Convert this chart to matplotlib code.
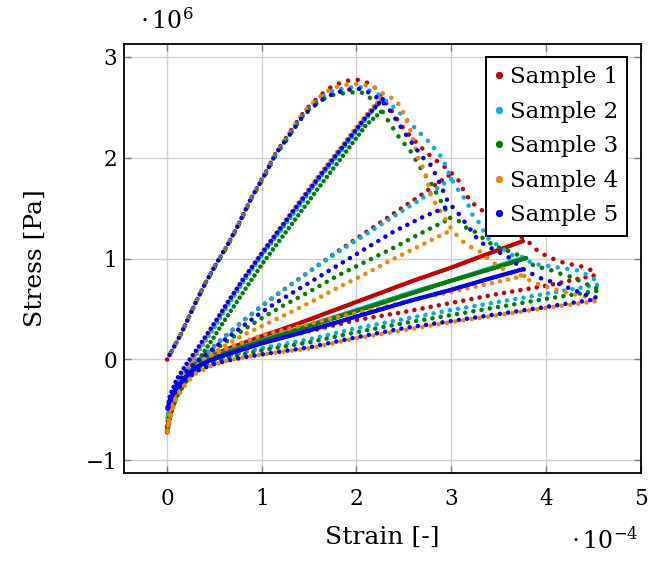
import matplotlib
matplotlib.use('Agg')
import matplotlib.pyplot as plt
from matplotlib.lines import Line2D

plt.rcParams['font.family'] = 'DejaVu Serif'
plt.rcParams['mathtext.fontset'] = 'dejavuserif'

# strain in 1e-4, stress in 1e6 Pa
labels = ['Sample 1', 'Sample 2', 'Sample 3', 'Sample 4', 'Sample 5']
colors = ['#cc0000', '#00b0ea', '#008000', '#ff8000', '#0000ff']

# first loading branch, shared strain points up to the peak
rise_x = [0, 0.07, 0.14, 0.22, 0.31, 0.40, 0.52, 0.63, 0.75, 0.89, 1.05, 1.15,
          1.26, 1.42, 1.51, 1.65, 1.75, 1.89, 2.03]
rise_y = [
    [0, 0.12, 0.24, 0.40, 0.58, 0.75, 0.95, 1.12, 1.33, 1.60, 1.87, 2.05, 2.20, 2.42, 2.52, 2.64, 2.71, 2.76, 2.77],
    [0, 0.12, 0.24, 0.40, 0.58, 0.75, 0.95, 1.12, 1.33, 1.60, 1.86, 2.04, 2.18, 2.40, 2.50, 2.61, 2.66, 2.69, 2.70],
    [0, 0.12, 0.24, 0.40, 0.58, 0.75, 0.94, 1.11, 1.32, 1.59, 1.85, 2.03, 2.17, 2.40, 2.49, 2.58, 2.62, 2.64, 2.65],
    [0, 0.12, 0.24, 0.40, 0.58, 0.75, 0.95, 1.12, 1.33, 1.60, 1.87, 2.05, 2.20, 2.42, 2.52, 2.63, 2.69, 2.72, 2.73],
    [0, 0.12, 0.24, 0.40, 0.58, 0.75, 0.95, 1.12, 1.33, 1.60, 1.86, 2.04, 2.18, 2.39, 2.48, 2.58, 2.63, 2.67, 2.68],
]

# softening branch after the peak, per sample
soft_x = [
    [2.17, 2.28, 2.38, 2.47, 2.56, 2.66, 2.80, 2.94, 3.01, 3.08, 3.14, 3.21, 3.35, 3.50, 3.65, 3.80, 3.93, 4.07, 4.21, 4.35, 4.55],
    [2.10, 2.24, 2.38, 2.58, 2.64, 2.77, 2.84, 2.91, 3.00, 3.08, 3.17, 3.22, 3.29, 3.35, 3.40, 3.65, 3.78, 3.85, 4.14, 4.35, 4.49, 4.55],
    [2.10, 2.26, 2.31, 2.38, 2.45, 2.52, 2.59, 2.64, 2.73, 2.79, 2.89, 2.99, 3.07, 3.15, 3.26, 3.35, 3.43, 3.50, 3.59, 3.72, 3.80, 3.87, 4.07, 4.15, 4.26, 4.42, 4.55],
    [2.12, 2.22, 2.31, 2.40, 2.47, 2.56, 2.66, 2.72, 2.79, 2.90, 3.01, 3.10, 3.17, 3.29, 3.40, 3.50, 3.65, 3.75, 3.85, 4.00, 4.19, 4.42, 4.55],
    [2.10, 2.24, 2.33, 2.40, 2.47, 2.58, 2.70, 2.79, 2.85, 2.92, 2.98, 3.05, 3.10, 3.17, 3.28, 3.36, 3.47, 3.61, 3.75, 3.85, 4.00, 4.08, 4.21, 4.45, 4.55],
]
soft_y = [
    [2.72, 2.58, 2.45, 2.32, 2.22, 2.12, 2.00, 1.90, 1.84, 1.77, 1.66, 1.56, 1.46, 1.35, 1.26, 1.18, 1.06, 1.00, 0.95, 0.93, 0.86],
    [2.68, 2.62, 2.51, 2.33, 2.27, 2.15, 2.07, 1.99, 1.79, 1.67, 1.56, 1.44, 1.36, 1.26, 1.19, 1.03, 1.01, 0.95, 0.91, 0.88, 0.81, 0.76],
    [2.63, 2.48, 2.40, 2.30, 2.20, 2.12, 2.04, 1.95, 1.82, 1.74, 1.57, 1.40, 1.38, 1.31, 1.26, 1.19, 1.14, 1.11, 1.08, 1.03, 1.00, 0.93, 0.88, 0.85, 0.82, 0.75, 0.70],
    [2.71, 2.68, 2.61, 2.58, 2.50, 2.30, 1.97, 1.87, 1.61, 1.45, 1.28, 1.19, 1.13, 1.08, 0.99, 0.92, 0.85, 0.83, 0.77, 0.72, 0.67, 0.62, 0.58],
    [2.66, 2.58, 2.50, 2.40, 2.30, 2.15, 2.00, 1.92, 1.80, 1.66, 1.53, 1.49, 1.41, 1.33, 1.19, 1.13, 1.08, 1.01, 0.90, 0.85, 0.78, 0.77, 0.72, 0.63, 0.61],
]

# unloading / reloading lines, one strain grid per cycle
cyc1_x = [0, 0.03, 0.1, 0.2, 0.3, 0.4, 0.5, 0.65, 0.8, 1.0, 1.3, 1.6, 1.9, 2.1, 2.28]
cyc1_y = [
    [-0.66, -0.46, -0.27, -0.12, 0.04, 0.19, 0.33, 0.56, 0.77, 1.04, 1.42, 1.80, 2.16, 2.40, 2.58],
    [-0.60, -0.44, -0.26, -0.11, 0.04, 0.18, 0.32, 0.55, 0.76, 1.03, 1.40, 1.78, 2.14, 2.38, 2.60],
    [-0.70, -0.52, -0.33, -0.19, -0.05, 0.09, 0.23, 0.45, 0.66, 0.94, 1.32, 1.70, 2.07, 2.32, 2.47],
    [-0.74, -0.50, -0.29, -0.12, 0.05, 0.20, 0.35, 0.58, 0.79, 1.06, 1.44, 1.82, 2.18, 2.42, 2.61],
    [-0.50, -0.36, -0.20, -0.05, 0.08, 0.22, 0.36, 0.58, 0.79, 1.05, 1.43, 1.80, 2.16, 2.40, 2.58],
]
cyc2_x = [0, 0.03, 0.1, 0.2, 0.3, 0.45, 0.6, 0.8, 1.0, 1.2, 1.5, 1.8, 2.1, 2.4, 2.7, 3.0]
cyc2_y = [
    [-0.70, -0.50, -0.30, -0.14, -0.03, 0.09, 0.22, 0.38, 0.53, 0.67, 0.87, 1.07, 1.26, 1.45, 1.64, 1.84],
    [-0.60, -0.45, -0.28, -0.13, -0.03, 0.09, 0.22, 0.38, 0.53, 0.67, 0.87, 1.06, 1.24, 1.42, 1.60, 1.79],
    [-0.72, -0.52, -0.32, -0.16, -0.05, 0.06, 0.16, 0.29, 0.41, 0.52, 0.67, 0.83, 0.97, 1.11, 1.26, 1.40],
    [-0.76, -0.55, -0.34, -0.18, -0.07, 0.04, 0.13, 0.24, 0.33, 0.42, 0.56, 0.71, 0.85, 1.00, 1.14, 1.28],
    [-0.52, -0.40, -0.25, -0.12, -0.03, 0.08, 0.19, 0.33, 0.47, 0.59, 0.76, 0.93, 1.10, 1.27, 1.41, 1.53],
]
cyc3_x = [0, 0.03, 0.1, 0.2, 0.3, 0.45, 0.6, 0.8, 1.0, 1.4, 1.8, 2.2, 2.6, 3.0, 3.4, 3.78]
cyc3_y = [
    [-0.72, -0.55, -0.35, -0.19, -0.08, 0.02, 0.09, 0.16, 0.23, 0.36, 0.50, 0.64, 0.78, 0.91, 1.05, 1.18],
    [-0.60, -0.47, -0.32, -0.18, -0.08, 0.01, 0.07, 0.13, 0.19, 0.31, 0.43, 0.55, 0.67, 0.78, 0.90, 1.01],
    [-0.72, -0.55, -0.35, -0.20, -0.09, 0.00, 0.06, 0.12, 0.18, 0.30, 0.42, 0.54, 0.66, 0.78, 0.89, 1.00],
    [-0.77, -0.57, -0.36, -0.20, -0.08, 0.03, 0.10, 0.17, 0.24, 0.33, 0.42, 0.50, 0.59, 0.67, 0.75, 0.83],
    [-0.50, -0.40, -0.28, -0.17, -0.08, -0.01, 0.04, 0.10, 0.16, 0.26, 0.37, 0.48, 0.59, 0.69, 0.80, 0.90],
]
cyc4_x = [0, 0.03, 0.1, 0.2, 0.3, 0.45, 0.6, 0.8, 1.0, 1.5, 2.0, 2.5, 3.0, 3.5, 4.0, 4.55]
cyc4_y = [
    [-0.72, -0.55, -0.36, -0.20, -0.10, 0.00, 0.06, 0.12, 0.17, 0.28, 0.39, 0.47, 0.56, 0.65, 0.73, 0.84],
    [-0.62, -0.48, -0.33, -0.20, -0.11, -0.03, 0.02, 0.07, 0.11, 0.20, 0.31, 0.40, 0.49, 0.57, 0.65, 0.74],
    [-0.73, -0.56, -0.37, -0.22, -0.12, -0.04, 0.01, 0.05, 0.09, 0.17, 0.27, 0.36, 0.44, 0.52, 0.60, 0.68],
    [-0.77, -0.58, -0.38, -0.24, -0.14, -0.07, -0.02, 0.02, 0.05, 0.11, 0.21, 0.29, 0.37, 0.44, 0.51, 0.58],
    [-0.52, -0.42, -0.30, -0.19, -0.12, -0.06, -0.02, 0.02, 0.05, 0.12, 0.22, 0.31, 0.38, 0.45, 0.52, 0.60],
]
dense_cyc3 = [True, True, True, False, True]

fig = plt.figure(figsize=(6.5, 5.63), dpi=100)
ax = fig.add_axes([0.1908, 0.1599, 0.7954, 0.7619])


def dots(x, y, color, gap, phase=0.0):
    ax.plot(x, y, color=color, lw=3.3, ls=(phase * gap, (0.01, gap)),
            dash_capstyle='round', zorder=3)


for i in range(5):
    c = colors[i]
    ph = i * 0.12
    dots(rise_x + soft_x[i], rise_y[i] + soft_y[i], c, 2.1, ph)
    dots(cyc1_x, cyc1_y[i], c, 1.15, ph)
    dots(cyc2_x, cyc2_y[i], c, 1.8, ph)
    dots(cyc3_x, cyc3_y[i], c, 0.55 if dense_cyc3[i] else 1.8, ph)
    dots(cyc4_x, cyc4_y[i], c, 1.8, ph)

ax.set_xlim(-0.455, 5.005)
ax.set_ylim(-1.124, 3.124)
ax.set_xticks([0, 1, 2, 3, 4, 5])
ax.set_yticks([-1, 0, 1, 2, 3])
ax.set_yticklabels(['\u22121', '0', '1', '2', '3'])
ax.grid(True, color='#d0d0d0', lw=1.0, zorder=0)
ax.tick_params(direction='in', length=5, width=1.0, color='#808080',
               top=True, right=True, labelsize=15.5)
ax.tick_params(axis='x', pad=11)
ax.tick_params(axis='y', pad=5)
for sp in ax.spines.values():
    sp.set_linewidth(1.3)

ax.set_xlabel('Strain [-]', fontsize=18)
ax.set_ylabel('Stress [Pa]', fontsize=18)
ax.xaxis.set_label_coords(0.5, -0.124)
ax.yaxis.set_label_coords(-0.150, 0.5)
fig.text(0.215, 0.962, r'$\cdot\,10^{6}$', fontsize=17, ha='left', va='center')
fig.text(0.982, 0.040, r'$\cdot\,10^{-4}$', fontsize=17, ha='right', va='center')

handles = [Line2D([], [], marker='o', ls='none', ms=4.2, color=c) for c in colors]
leg = ax.legend(handles, labels, loc='upper right', bbox_to_anchor=(0.973, 0.970),
                borderaxespad=0, fontsize=16.5, fancybox=False, framealpha=1,
                edgecolor='black', handlelength=0.4, handletextpad=0.25,
                labelspacing=0.55, borderpad=0.4)
leg.get_frame().set_linewidth(1.4)

fig.savefig('out.png', dpi=100)
